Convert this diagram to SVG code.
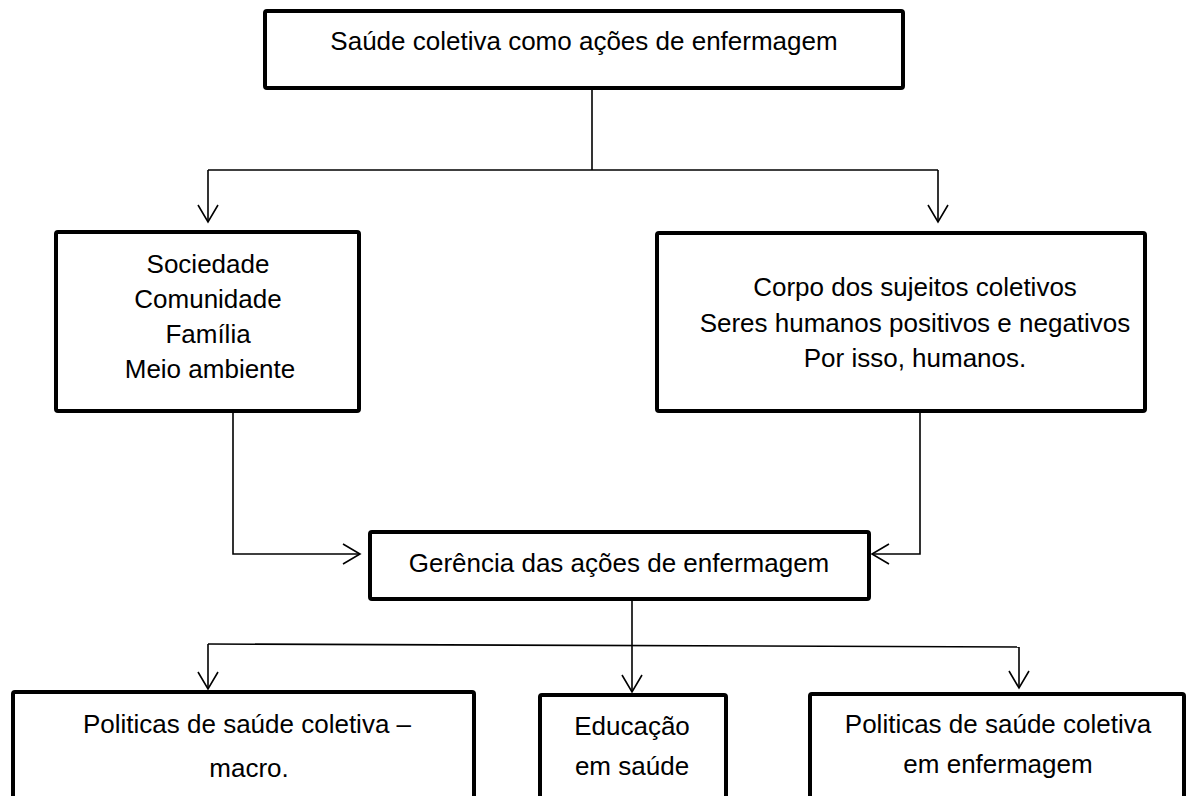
<svg xmlns="http://www.w3.org/2000/svg" width="1186" height="796" viewBox="0 0 1186 796">
<style>
.box{fill:#fff;stroke:#000;stroke-width:4;stroke-linejoin:round}
.t{font-family:"Liberation Sans",Arial,sans-serif;font-size:26px;fill:#000;text-anchor:middle}
.c{fill:none;stroke:#000;stroke-width:1.6}
</style>
<defs>
<marker id="ah" viewBox="-19 -12 21 24" markerWidth="21" markerHeight="24" refX="0" refY="0" markerUnits="userSpaceOnUse" orient="auto">
<path d="M-17,-10 L0,0 L-17,10" fill="none" stroke="#000" stroke-width="1.6"/>
</marker>
</defs>
<rect width="1186" height="796" fill="#fff"/>
<g id="connectors">
<polyline class="c" points="592,88 592,170"/>
<polyline class="c" points="208,170 938,170"/>
<polyline class="c" points="208,170 208,222" marker-end="url(#ah)"/>
<polyline class="c" points="938,170 938,222" marker-end="url(#ah)"/>
<polyline class="c" points="233,411 233,554 360,554" marker-end="url(#ah)"/>
<polyline class="c" points="920,411 920,554 872,554" marker-end="url(#ah)"/>
<polyline class="c" points="632,599 632,692" marker-end="url(#ah)"/>
<polyline class="c" points="208,644 1019,647"/>
<polyline class="c" points="208,644 208,689" marker-end="url(#ah)"/>
<polyline class="c" points="1019,647 1019,688" marker-end="url(#ah)"/>
</g>
<g id="top">
<rect class="box" x="265" y="11" width="638" height="77" rx="2"/>
<text class="t" x="584" y="50">Saúde coletiva como ações de enfermagem</text>
</g>
<g id="left">
<rect class="box" x="56" y="232" width="303" height="179" rx="2"/>
<text class="t" x="208" y="273">Sociedade</text>
<text class="t" x="208" y="308">Comunidade</text>
<text class="t" x="208" y="343">Família</text>
<text class="t" x="210" y="378">Meio ambiente</text>
</g>
<g id="right">
<rect class="box" x="657" y="233" width="488" height="178" rx="2"/>
<text class="t" x="915" y="296">Corpo dos sujeitos coletivos</text>
<text class="t" x="915" y="332">Seres humanos positivos e negativos</text>
<text class="t" x="915" y="367">Por isso, humanos.</text>
</g>
<g id="middle">
<rect class="box" x="370" y="532" width="499" height="67" rx="2"/>
<text class="t" x="619" y="572">Gerência das ações de enfermagem</text>
</g>
<g id="bottom-left">
<rect class="box" x="13" y="692" width="461" height="120" rx="2"/>
<text class="t" x="247" y="733">Politicas de saúde coletiva –</text>
<text class="t" x="249" y="777">macro.</text>
</g>
<g id="bottom-middle">
<rect class="box" x="540" y="695" width="186" height="120" rx="2"/>
<text class="t" x="632" y="735">Educação</text>
<text class="t" x="632" y="775">em saúde</text>
</g>
<g id="bottom-right">
<rect class="box" x="810" y="694" width="374" height="120" rx="2"/>
<text class="t" x="998" y="733">Politicas de saúde coletiva</text>
<text class="t" x="998" y="773">em enfermagem</text>
</g>
</svg>
